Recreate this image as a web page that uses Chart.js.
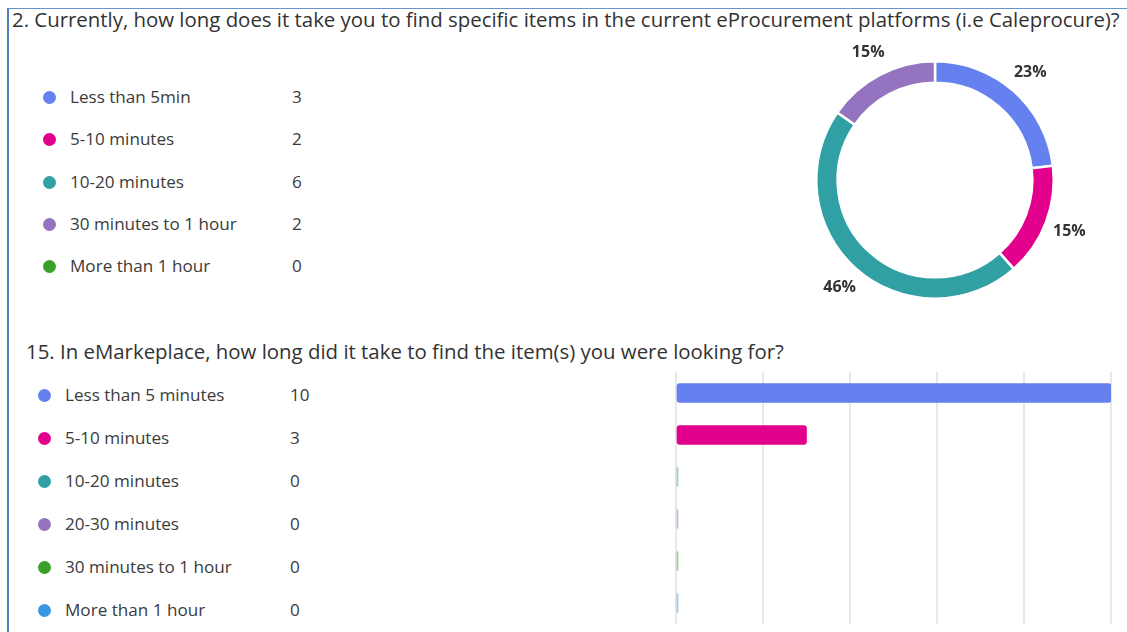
<!DOCTYPE html>
<html>
<head>
<meta charset="utf-8">
<script src="https://cdn.jsdelivr.net/npm/chart.js@4.4.1/dist/chart.umd.min.js"></script>
<style>
    body { margin: 0; background: #fff; width: 1127px; height: 632px; overflow: hidden; position: relative; font-family: "Open Sans", "Noto Sans", sans-serif; color: #333; }
    .frame { position: absolute; left: 7px; top: 8px; width: 1130px; height: 640px; border-left: 2px solid #4f7fc0; border-top: 1px solid #6a92cc; }
    .title { position: absolute; white-space: nowrap; color: #323232; font-size: 20.4px; }
    .row { position: absolute; font-size: 17.1px; color: #3b3b3b; white-space: nowrap; }
    .dot { position: absolute; width: 13px; height: 13px; border-radius: 50%; }
    canvas { position: absolute; }
</style>
</head>
<body>
<div class="frame"></div>
<div class="title" style="left:12px; top:5px;">2. Currently, how long does it take you to find specific items in the current eProcurement platforms (i.e Caleprocure)?</div>
<div id="legend1"></div>
<div class="title" style="left:26px; top:337px;">15. In eMarkeplace, how long did it take to find the item(s) you were looking for?</div>
<div id="legend2"></div>

<div style="position:absolute; left:775px; top:20px; width:320px; height:320px;"><canvas id="donaCaleprocure"></canvas></div>
<div style="position:absolute; left:660px; top:360px; width:467px; height:272px;"><canvas id="barrasEmarket"></canvas></div>

<script>
//Datos de la pregunta 2
const labelsCale = ['Less than 5min', '5-10 minutes', '10-20 minutes', '30 minutes to 1 hour', 'More than 1 hour'];
const valoresCale = [3, 2, 6, 2, 0];
const coloresCale = ['#6580ef', '#e3008c', '#30a0a4', '#9474c0', '#3ba02a'];

//Datos de la pregunta 15
const labelsMarket = ['Less than 5 minutes', '5-10 minutes', '10-20 minutes', '20-30 minutes', '30 minutes to 1 hour', 'More than 1 hour'];
const valoresMarket = [10, 3, 0, 0, 0, 0];
const coloresMarket = ['#6580ef', '#e3008c', '#30a0a4', '#9474c0', '#3ba02a', '#3a96e0'];
const ticksMarket = [0, 2, 4, 6, 8, 10];

//Leyendas a la izquierda
function crearLeyenda(id, labels, valores, colores, x0, y0, paso, xValor) {
    const cont = document.getElementById(id);
    labels.forEach((lab, i) => {
        const y = y0 + i * paso;
        cont.insertAdjacentHTML('beforeend',
            `<div class="dot" style="left:${x0 - 6}px; top:${y - 6}px; background:${colores[i]}"></div>` +
            `<div class="row" style="left:${x0 + 21}px; top:${y - 12}px;">${lab}</div>` +
            `<div class="row" style="left:${xValor}px; top:${y - 12}px;">${valores[i]}</div>`);
    });
}
crearLeyenda('legend1', labelsCale, valoresCale, coloresCale, 49, 97, 42.3, 292);
crearLeyenda('legend2', labelsMarket, valoresMarket, coloresMarket, 44, 395, 43, 290);

//Etiquetas de porcentaje fuera de la dona
const porcentajes = {
    id: 'porcentajes',
    afterDatasetsDraw(chart) {
        const ctx = chart.ctx;
        const total = valoresCale.reduce((a, b) => a + b, 0);
        chart.getDatasetMeta(0).data.forEach((arc, i) => {
            if (!valoresCale[i]) return;
            const p = arc.getProps(['x', 'y', 'startAngle', 'endAngle', 'outerRadius']);
            const a = (p.startAngle + p.endAngle) / 2;
            const r = p.outerRadius + 25;
            ctx.save();
            ctx.font = 'bold 16px "Open Sans", sans-serif';
            ctx.fillStyle = '#333';
            ctx.textAlign = 'center';
            ctx.textBaseline = 'middle';
            ctx.fillText(Math.round(valoresCale[i] / total * 100) + '%', p.x + Math.cos(a) * r, p.y + Math.sin(a) * r);
            ctx.restore();
        });
    }
};

new Chart(document.getElementById('donaCaleprocure').getContext('2d'), {
    type: 'doughnut',
    data: {
        labels: labelsCale,
        datasets: [{
            data: valoresCale,
            backgroundColor: coloresCale,
            borderColor: '#fff',
            borderWidth: 2.5
        }]
    },
    options: {
        responsive: true,
        maintainAspectRatio: false,
        animation: false,
        cutout: '82%',
        layout: { padding: 40 },
        plugins: { legend: { display: false }, tooltip: { enabled: false } }
    },
    plugins: [porcentajes]
});

//Barras horizontales
new Chart(document.getElementById('barrasEmarket').getContext('2d'), {
    type: 'bar',
    data: {
        labels: labelsMarket,
        datasets: [{
            data: valoresMarket,
            backgroundColor: coloresMarket.map((c, i) => valoresMarket[i] ? c : c + '80'),
            borderRadius: 3,
            borderSkipped: false,
            barThickness: 19,
            minBarLength: 2
        }]
    },
    options: {
        indexAxis: 'y',
        responsive: true,
        maintainAspectRatio: false,
        animation: false,
        layout: { padding: { left: 16, right: 16, top: 12, bottom: 8 } },
        scales: {
            x: {
                min: 0,
                max: 10,
                afterBuildTicks: axis => { axis.ticks = ticksMarket.map(v => ({ value: v })); },
                ticks: { display: false },
                grid: { color: '#e8e8e8', lineWidth: 2, drawTicks: false },
                border: { display: false }
            },
            y: { display: false }
        },
        plugins: { legend: { display: false }, tooltip: { enabled: false } }
    }
});
</script>
</body>
</html>
